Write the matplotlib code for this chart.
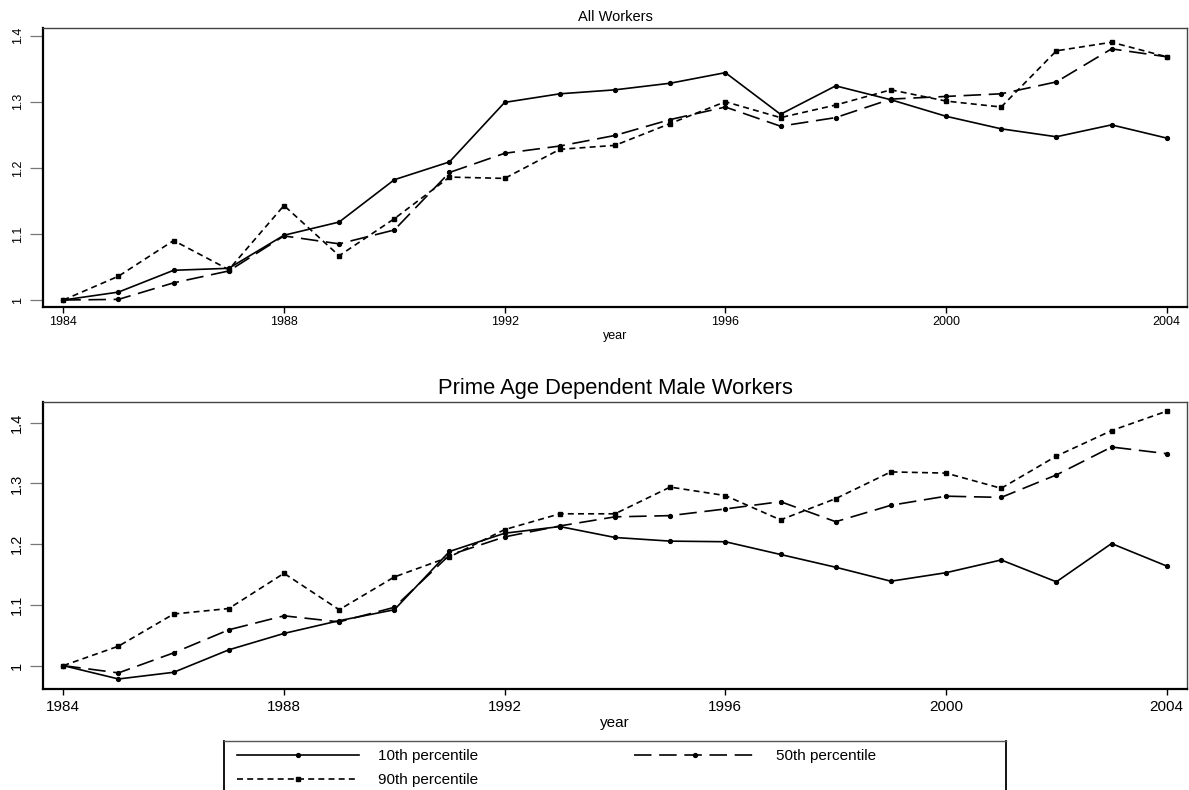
import matplotlib
matplotlib.use("Agg")
import matplotlib.pyplot as plt

plt.rcParams['font.family'] = ['Liberation Sans', 'DejaVu Sans']

years = list(range(1984, 2005))

# All Workers
all_p10 = [1.000, 1.012, 1.045, 1.048, 1.098, 1.118, 1.182, 1.209, 1.299, 1.312, 1.318,
           1.328, 1.344, 1.281, 1.324, 1.303, 1.278, 1.259, 1.247, 1.265, 1.245]
all_p50 = [1.000, 1.001, 1.026, 1.044, 1.097, 1.085, 1.106, 1.193, 1.222, 1.233, 1.249,
           1.273, 1.292, 1.263, 1.276, 1.304, 1.308, 1.312, 1.330, 1.380, 1.368]
all_p90 = [1.000, 1.036, 1.090, 1.046, 1.143, 1.067, 1.123, 1.186, 1.184, 1.228, 1.234,
           1.267, 1.300, 1.276, 1.295, 1.318, 1.301, 1.292, 1.377, 1.390, 1.368]

# Prime Age Dependent Male Workers
pam_p10 = [1.000, 0.978, 0.989, 1.026, 1.053, 1.074, 1.092, 1.188, 1.218, 1.229, 1.211,
           1.205, 1.204, 1.183, 1.162, 1.139, 1.153, 1.174, 1.138, 1.201, 1.164]
pam_p50 = [1.000, 0.988, 1.021, 1.059, 1.082, 1.072, 1.096, 1.182, 1.212, 1.230, 1.245,
           1.247, 1.258, 1.270, 1.237, 1.264, 1.279, 1.277, 1.314, 1.360, 1.349]
pam_p90 = [1.000, 1.032, 1.085, 1.094, 1.152, 1.092, 1.146, 1.179, 1.224, 1.250, 1.250,
           1.294, 1.280, 1.240, 1.275, 1.319, 1.317, 1.292, 1.345, 1.387, 1.419]

xticks = [1984, 1988, 1992, 1996, 2000, 2004]
yticks = [1.0, 1.1, 1.2, 1.3, 1.4]
ytick_labels = ["1", "1.1", "1.2", "1.3", "1.4"]
series_labels = ["10th percentile", "50th percentile", "90th percentile"]
titles = ["All Workers", "Prime Age Dependent Male Workers"]

W, H = 1189, 790
fig = plt.figure(figsize=(W / 100, H / 100), dpi=100)

def fx(px):
    return px / W

def fy(py):
    return 1 - py / H

ax1 = fig.add_axes([fx(43.3), fy(307.3), fx(1186.7 - 43.3), (307.3 - 27.7) / H])
ax2 = fig.add_axes([fx(43.3), fy(689.3), fx(1186.7 - 43.3), (689.3 - 401.7) / H])

styles = [
    dict(color='black', lw=1.2, linestyle='-', marker='o', ms=2.8),
    dict(color='black', lw=1.2, linestyle=(0, (10.5, 4.6)), marker='o', ms=2.8),
    dict(color='black', lw=1.2, linestyle=(0, (3.6, 2.5)), marker='s', ms=3.0),
]

def draw(ax, data, title, tfs, tickfs, yfs, xlabfs, ylim, tpad, xpad):
    lines = []
    for vals, st, lab in zip(data, styles, series_labels):
        ln, = ax.plot(years, vals, label=lab, **st)
        lines.append(ln)
    ax.set_xlim(1983.6375, 2004.3625)
    ax.set_ylim(*ylim)
    ax.set_xticks(xticks)
    ax.set_xticklabels([str(x) for x in xticks], fontsize=tickfs)
    ax.set_yticks(yticks)
    ax.set_yticklabels(ytick_labels, fontsize=yfs, rotation=90, va='center')
    ax.tick_params(axis='y', length=9.4, width=0.9, color='#777777', pad=4.6)
    ax.tick_params(axis='x', length=4.3, width=1.0, color='black', pad=xpad)
    ax.set_title(title, fontsize=tfs, pad=tpad)
    ax.set_xlabel("year", fontsize=xlabfs, labelpad=1)
    for s in ['left', 'bottom']:
        ax.spines[s].set_linewidth(1.6)
        ax.spines[s].set_color('black')
    for s in ['top', 'right']:
        ax.spines[s].set_linewidth(1.0)
        ax.spines[s].set_color('#444444')
    return lines

draw(ax1, [all_p10, all_p50, all_p90], titles[0], 10.5, 9, 9, 9,
     (0.989, 1.412), 4.5, 2.2)
lines = draw(ax2, [pam_p10, pam_p50, pam_p90], titles[1], 15.8, 11, 10.5, 11,
             (0.961, 1.4346), 5.5, 3.6)

# Legend box
axl = fig.add_axes([fx(224.3), fy(800), fx(1006 - 224.3), (800 - 741) / H])
axl.set_xticks([])
axl.set_yticks([])
axl.patch.set_alpha(0)
axl.spines['left'].set_color('black')
axl.spines['left'].set_linewidth(1.3)
axl.spines['right'].set_color('black')
axl.spines['right'].set_linewidth(1.3)
axl.spines['top'].set_color('#555555')
axl.spines['top'].set_linewidth(1.0)
axl.spines['bottom'].set_visible(False)

order = [0, 2, 1]
axl.legend([lines[i] for i in order], [series_labels[i] for i in order],
           loc='upper left', bbox_to_anchor=((237 - 224.3) / 781.7, 0.862),
           frameon=False, ncol=2, numpoints=1, handlelength=8.0,
           handletextpad=1.25, columnspacing=10.2, fontsize=11,
           borderpad=0, borderaxespad=0, labelspacing=0.66)

fig.savefig("out.png", dpi=100)
